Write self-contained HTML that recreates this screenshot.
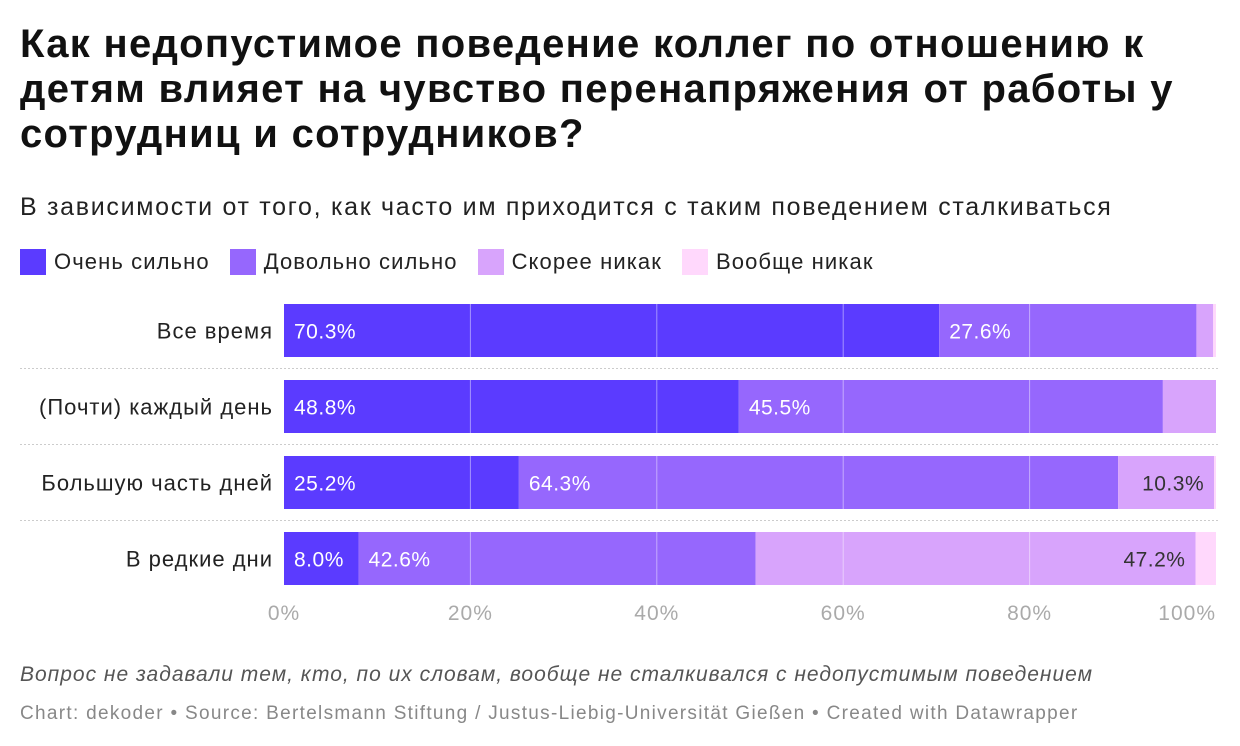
<!DOCTYPE html>
<html><head><meta charset="utf-8"><style>
body{margin:0;background:#fff;font-family:"Liberation Sans",sans-serif;width:1240px;height:746px;overflow:hidden;position:relative}
h1{position:absolute;left:20px;top:22px;margin:0;font-size:40px;letter-spacing:1.3px;line-height:45px;font-weight:bold;color:#111;width:1215px}
.sub{position:absolute;left:20px;top:193px;font-size:25px;letter-spacing:1.7px;color:#222;white-space:nowrap}
.legend{position:absolute;left:20px;top:249px;font-size:22px;letter-spacing:1.1px;color:#222;display:flex}
.li{display:flex;align-items:center;margin-right:20px}
.sw{width:26px;height:26px;margin-right:8px}
.note{position:absolute;left:20px;top:663px;font-size:21px;letter-spacing:1px;font-style:italic;color:#555;white-space:nowrap}
.src{position:absolute;left:20px;top:703px;font-size:19px;letter-spacing:1.3px;color:#888;white-space:nowrap}
svg{position:absolute;left:0;top:0}
svg text{letter-spacing:1px}
svg text.val{letter-spacing:0.5px}
</style></head><body>
<h1>Как недопустимое поведение коллег по отношению к детям влияет на чувство перенапряжения от работы у сотрудниц и сотрудников?</h1>
<div class="sub">В зависимости от того, как часто им приходится с таким поведением сталкиваться</div>
<div class="legend">
<div class="li"><div class="sw" style="background:#5b3bff"></div>Очень сильно</div>
<div class="li"><div class="sw" style="background:#9667fd"></div>Довольно сильно</div>
<div class="li"><div class="sw" style="background:#d8a4fc"></div>Скорее никак</div>
<div class="li"><div class="sw" style="background:#ffd8fc"></div>Вообще никак</div>
</div>
<svg id="chart" width="1240" height="746"></svg>
<div class="note">Вопрос не задавали тем, кто, по их словам, вообще не сталкивался с недопустимым поведением</div>
<div class="src">Chart: dekoder • Source: Bertelsmann Stiftung / Justus-Liebig-Universität Gießen • Created with Datawrapper</div>
<script>
const categories=["Все время","(Почти) каждый день","Большую часть дней","В редкие дни"];
const veryStrong=[70.3,48.8,25.2,8.0];
const fairlyStrong=[27.6,45.5,64.3,42.6];
const ratherNot=[1.8,5.7,10.3,47.2];
const notAtAll=[0.3,0,0.2,2.2];
const ticks=[0,20,40,60,80,100];
const series=[veryStrong,fairlyStrong,ratherNot,notAtAll];
const colors=["#5b3bff","#9667fd","#d8a4fc","#ffd8fc"];
const textCol=["#fff","#fff","#333","#333"];
const svg=document.getElementById('chart');const NS="http://www.w3.org/2000/svg";
const x=v=>284+v*9.32;const y=i=>304+i*76;const bh=53;
function mk(t,a){const e=document.createElementNS(NS,t);for(const k in a)e.setAttribute(k,a[k]);svg.appendChild(e);return e;}
categories.forEach((c,i)=>{
 const l=mk('text',{x:273,y:y(i)+bh/2+8,'text-anchor':'end','font-size':22,fill:'#222'});l.textContent=c;
 
 
 let acc=0;
 series.forEach((s,k)=>{const v=s[i];if(v<=0)return;
  const r=mk('rect',{x:x(acc),y:y(i),width:x(acc+v)-x(acc),height:bh,fill:colors[k]});
  
  
  acc+=v;});
 if(i<categories.length-1){const d=mk('line',{x1:20,x2:1218,y1:y(i)+bh+11.5,y2:y(i)+bh+11.5,stroke:'#ccc','stroke-dasharray':'2,2'});
  
  }
});
ticks.forEach(t=>{if(t>0&&t<100){const g=mk('line',{x1:x(t),x2:x(t),y1:300,y2:590,stroke:'#fff','stroke-opacity':0.45,'stroke-width':1});
 
 }
 const tl=mk('text',{x:t==100?1216:x(t),y:620,'text-anchor':t==0?'middle':(t==100?'end':'middle'),'font-size':21,fill:'#aaa'});tl.textContent=t+'%';
 
 });
categories.forEach((c,i)=>{let acc=0;
 series.forEach((s,k)=>{const v=s[i];
  if(v>=8&&k<3){const right=k==2;const t=mk('text',{x:right?x(acc+v)-10:x(acc)+10,y:y(i)+bh/2+8,'text-anchor':right?'end':'start','font-size':21,fill:textCol[k],'class':'val'});
   t.textContent=v.toFixed(1)+'%';
   
   }
  acc+=v;});});
</script>
</body></html>
